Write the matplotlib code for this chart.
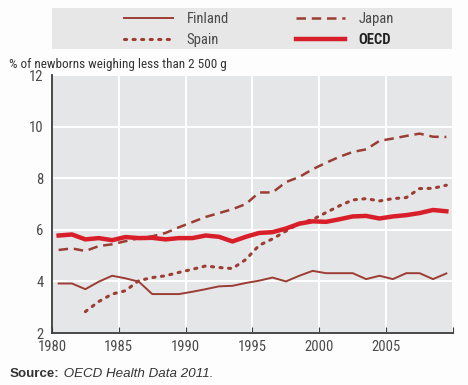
import numpy as np
import matplotlib
matplotlib.use("Agg")
import matplotlib.pyplot as plt
from matplotlib.patches import Rectangle
from matplotlib import font_manager

names = set(f.name for f in font_manager.fontManager.ttflist)
cond = [n for n in ['DejaVu Sans Condensed', 'Liberation Sans Narrow', 'Roboto Condensed',
                    'Open Sans Condensed', 'Roboto', 'Liberation Sans'] if n in names]
plt.rcParams['font.family'] = [cond[0], 'DejaVu Sans']

# data (low birth weight, % of newborns < 2500 g)
years = np.arange(1980, 2010)
finland = [3.92, 3.92, 3.70, 3.99, 4.22, 4.12, 3.99, 3.51, 3.51, 3.51,
           3.60, 3.70, 3.81, 3.83, 3.94, 4.03, 4.15, 4.00, 4.22, 4.41,
           4.32, 4.32, 4.32, 4.09, 4.22, 4.09, 4.32, 4.32, 4.09, 4.31]
japan = [5.22, 5.28, 5.18, 5.37, 5.44, 5.56, 5.67, 5.75, 5.88, 6.10,
         6.30, 6.50, 6.65, 6.80, 7.00, 7.45, 7.45, 7.85, 8.05, 8.35,
         8.60, 8.83, 9.02, 9.12, 9.45, 9.54, 9.64, 9.73, 9.61, 9.60]
spain = [np.nan, np.nan, 2.83, 3.22, 3.51, 3.64, 4.03, 4.15, 4.22, 4.35,
         4.47, 4.60, 4.54, 4.50, 4.85, 5.40, 5.65, 5.95, 6.25, 6.40,
         6.67, 6.93, 7.16, 7.21, 7.12, 7.21, 7.25, 7.60, 7.61, 7.73]
oecd = [5.78, 5.82, 5.63, 5.68, 5.60, 5.72, 5.68, 5.69, 5.63, 5.68,
        5.68, 5.78, 5.73, 5.55, 5.73, 5.88, 5.91, 6.05, 6.24, 6.33,
        6.31, 6.41, 6.52, 6.54, 6.44, 6.52, 6.57, 6.65, 6.77, 6.72]

tick_years = [1980, 1985, 1990, 1995, 2000, 2005, 2010]
tick_labels = ['1980', '1985', '1990', '1995', '2000', '2005', '']

brown = '#9c3d34'
red = '#d81e28'
grey_txt = '#4a4a4a'

fig = plt.figure(figsize=(4.68, 3.85), dpi=100)
ax = fig.add_axes([0.111, 0.135, 0.857, 0.67])
ax.set_facecolor('#e5e6e7')

# points sit in the middle of each year slot
x = years + 0.5
l1, = ax.plot(x, finland, color=brown, lw=1.4, label='Finland')
l2, = ax.plot(x, japan, color=brown, lw=1.8, dashes=(3.8, 2.3), label='Japan')
l3, = ax.plot(x, spain, color=brown, lw=2.2, linestyle=(0, (0.7, 2.1)),
              dash_capstyle='round', label='Spain')
l4, = ax.plot(x, oecd, color=red, lw=3.2, label='OECD')

ax.set_xlim(1980, 2010)
ax.set_ylim(2, 12)
ax.set_xticks(tick_years)
ax.set_xticklabels(tick_labels)
ax.set_yticks([2, 4, 6, 8, 10, 12])

ax.grid(True, color='white', lw=1.4)
ax.set_axisbelow(True)
for s in ['top', 'right']:
    ax.spines[s].set_visible(False)
for s in ['left', 'bottom']:
    ax.spines[s].set_color('#3a3a3a')
    ax.spines[s].set_linewidth(1.3)
ax.tick_params(axis='x', direction='in', length=4, color='#3a3a3a',
               labelsize=10.5, labelcolor=grey_txt, pad=5)
ax.tick_params(axis='y', direction='out', length=0, labelsize=10.5,
               labelcolor=grey_txt, pad=6)

fig.text(0.02, 0.823, '% of newborns weighing less than 2 500 g',
         fontsize=9.5, color='#333333')

# legend box on top
fig.patches.append(Rectangle((0.111, 0.873), 0.855, 0.106,
                             transform=fig.transFigure,
                             facecolor='#e7e7e7', edgecolor='none'))
leg = fig.legend([l1, l3, l2, l4], ['Finland', 'Spain', 'Japan', 'OECD'],
                 ncol=2, loc='center', bbox_to_anchor=(0.553, 0.924),
                 frameon=False, fontsize=10.5, handlelength=3.4,
                 columnspacing=4.6, labelspacing=0.5, handletextpad=0.9)
for t in leg.get_texts():
    t.set_color(grey_txt)
leg.get_texts()[3].set_fontweight('bold')
leg.get_texts()[3].set_color('#222222')

src = fig.text(0.021, 0.02, 'Source:', fontsize=9.6, fontweight='bold',
               color='#333333', family=['Liberation Sans', 'DejaVu Sans'])
rest = fig.text(0.12, 0.02, ' OECD Health Data 2011.', fontsize=9.6, style='italic',
                color='#333333', family=['Liberation Sans', 'DejaVu Sans'])
fig.canvas.draw()
bb = src.get_window_extent()
rest.set_position((bb.x1 / fig.bbox.width, 0.02))

fig.savefig('out.png', dpi=100, facecolor='#fdfdfd')
